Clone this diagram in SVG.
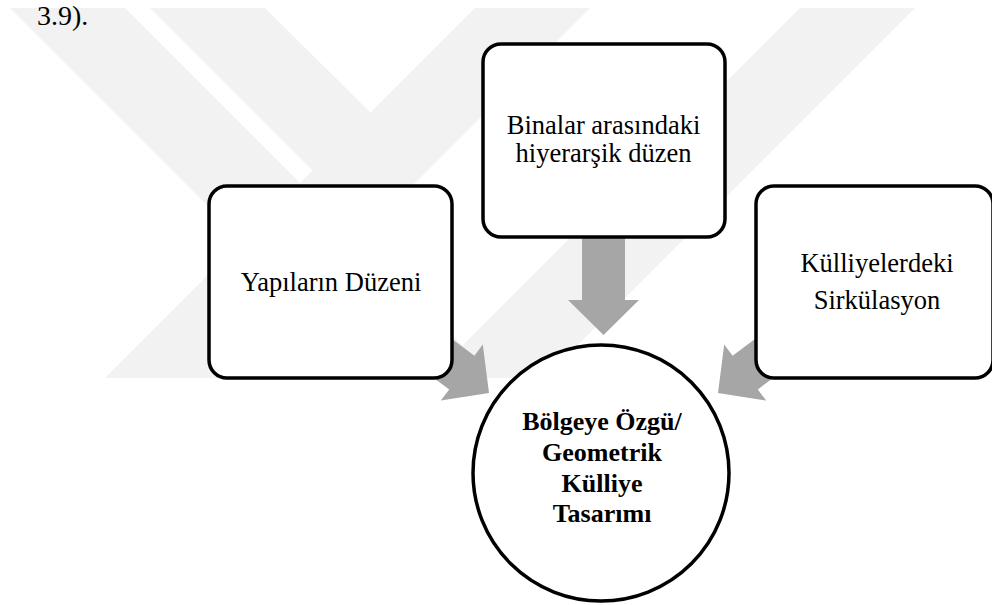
<svg xmlns="http://www.w3.org/2000/svg" width="992" height="605" viewBox="0 0 992 605">
<style>
.wm{fill:#f2f2f2}
.box{fill:#ffffff;stroke:#000000;stroke-width:3.5}
.arr{fill:#a6a6a6}
.t{font-family:"Liberation Serif","Times New Roman",serif;font-size:26.5px;fill:#000000;text-anchor:middle}
.b{font-family:"Liberation Serif","Times New Roman",serif;font-size:26px;font-weight:bold;fill:#000000;text-anchor:middle}
</style>
<rect width="992" height="605" fill="#ffffff"/>
<g id="watermark">
<polygon class="wm" points="10,8 125,8 495,378 380,378"/>
<polygon class="wm" points="150,8 265,8 370,112 371,229"/>
<polygon class="wm" points="475,8 590,8 220,378 105,378"/>
<polygon class="wm" points="800,8 915,8 545,378 430,378"/>
</g>
<text x="37" y="25" font-family="Liberation Serif, Times New Roman, serif" font-size="28">3.9).</text>
<g id="connectors">
<polygon class="arr" points="582,237 625,237 625,300 639,300 603.5,335 568,300 582,300"/>
<polygon class="arr" points="418.4,313.8 474.4,355.8 482.8,344.6 489,393 440.8,400.6 449.2,389.4 393.2,347.4"/>
<polygon class="arr" points="788.6,313.8 732.6,355.8 724.2,344.6 718,393 766.2,400.6 757.8,389.4 813.8,347.4"/>
</g>
<g id="node-yapilarin">
<rect class="box" x="209" y="186" width="243" height="192" rx="18"/>
<text class="t" x="331" y="291">Yapıların Düzeni</text>
</g>
<g id="node-binalar">
<rect class="box" x="483" y="44" width="242" height="193" rx="18"/>
<text class="t" x="603.5" y="134">Binalar arasındaki</text>
<text class="t" x="603.5" y="162">hiyerarşik düzen</text>
</g>
<g id="node-kulliyeler">
<rect class="box" x="756" y="186" width="237" height="192" rx="18"/>
<text class="t" x="877" y="272">Külliyelerdeki</text>
<text class="t" x="877" y="309">Sirkülasyon</text>
</g>
<g id="node-center">
<circle class="box" cx="601" cy="473" r="128"/>
<text class="b" x="602" y="430">Bölgeye Özgü/</text>
<text class="b" x="602" y="461">Geometrik</text>
<text class="b" x="602" y="492">Külliye</text>
<text class="b" x="602" y="522">Tasarımı</text>
</g>
</svg>
